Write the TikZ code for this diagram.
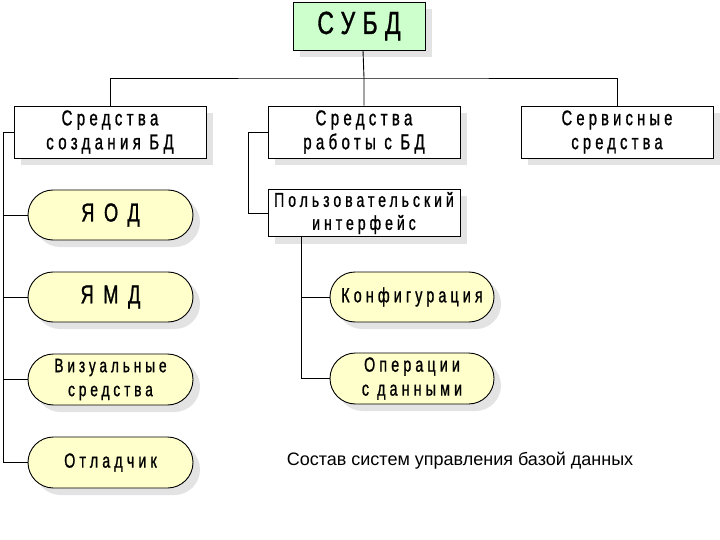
\documentclass[tikz,border=0pt]{standalone}
\usepackage{fontspec}
\setmainfont{Liberation Sans}
\newfontfamily\boxfnt[LetterSpace=20,FakeStretch=0.7,FakeBold=1]{Liberation Sans}
\newfontfamily\widefnt[LetterSpace=37,FakeStretch=0.7,FakeBold=1]{Liberation Sans}
\newfontfamily\bigfnt[LetterSpace=23,FakeStretch=0.72,FakeBold=1]{Liberation Sans}
\usetikzlibrary{shadows,shapes.misc}
\definecolor{boxgreen}{HTML}{CCFFCC}
\definecolor{pillyellow}{HTML}{FFFFCC}
\tikzset{
  shad/.style={copy shadow={shadow xshift=7pt,shadow yshift=-7pt,fill=gray!22,draw=none}},
  rbox/.style={draw,line width=0.9pt,fill=white,minimum width=192pt,minimum height=52pt,
    align=center,inner sep=0pt,shad,font=\boxfnt\fontsize{21.5}{24}\selectfont},
  pill/.style={draw,line width=0.9pt,rounded rectangle,fill=pillyellow,minimum width=165pt,
    minimum height=50pt,align=center,inner sep=0pt,shad,font=\boxfnt\fontsize{20.5}{24}\selectfont},
  conn/.style={line width=0.9pt}
}
\begin{document}
\begin{tikzpicture}[x=1pt,y=-1pt]
\useasboundingbox (0,0) rectangle (720,540);
\node[rbox,fill=boxgreen,minimum width=132pt,minimum height=48pt,font=\bigfnt\fontsize{32}{32}\selectfont] (subd) at (359,26) {СУБД};
\node[rbox] (s1) at (110,132) {Средства\\создания БД};
\node[rbox] (s2) at (364,132) {Средства\\работы с БД};
\node[rbox,font=\boxfnt\fontsize{21}{24}\selectfont] (s3) at (617,132) {Сервисные\\средства};
\node[rbox,minimum height=47pt,font=\boxfnt\fontsize{20}{23}\selectfont] (ui) at (364,213) {Пользовательский\\интерфейс};
\node[pill,font=\widefnt\fontsize{26}{26}\selectfont] (yod) at (110.5,215) {ЯОД};
\node[pill,font=\widefnt\fontsize{26}{26}\selectfont] (ymd) at (110.5,297) {ЯМД};
\node[pill,minimum height=51pt,font=\boxfnt\fontsize{19.5}{24}\selectfont] (viz) at (110.5,379.5) {Визуальные\\средства};
\node[pill,minimum height=51pt] (otl) at (110.5,462.5) {Отладчик};
\node[pill,minimum width=164pt] (konf) at (412,297) {Конфигурация};
\node[pill,minimum width=164pt,minimum height=51pt] (oper) at (412,378.5) {Операции\\с данными};
\node[font=\fontsize{18}{22}\selectfont] (cap) at (460,461) {Состав систем управления базой данных};
% connectors
\coordinate (bus) at (363,78);
\draw[conn] (s1.north) |- (bus) -| (s3.north);
\draw[conn] (subd.south -| bus) -- (bus -| s2.north) -- (s2.north);
\coordinate (lt) at (3,0);
\draw[conn] (s1.west) -| (lt |- otl.west) -- (otl.west);
\draw[conn] (lt |- yod.west) -- (yod.west);
\draw[conn] (lt |- ymd.west) -- (ymd.west);
\draw[conn] (lt |- viz.west) -- (viz.west);
\coordinate (mt) at (248,0);
\draw[conn] (s2.west) -| (mt |- ui.west) -- (ui.west);
\coordinate (rt) at (301,0);
\draw[conn] (rt |- ui.south) |- (oper.west);
\draw[conn] (rt |- konf.west) -- (konf.west);
\end{tikzpicture}
\end{document}
